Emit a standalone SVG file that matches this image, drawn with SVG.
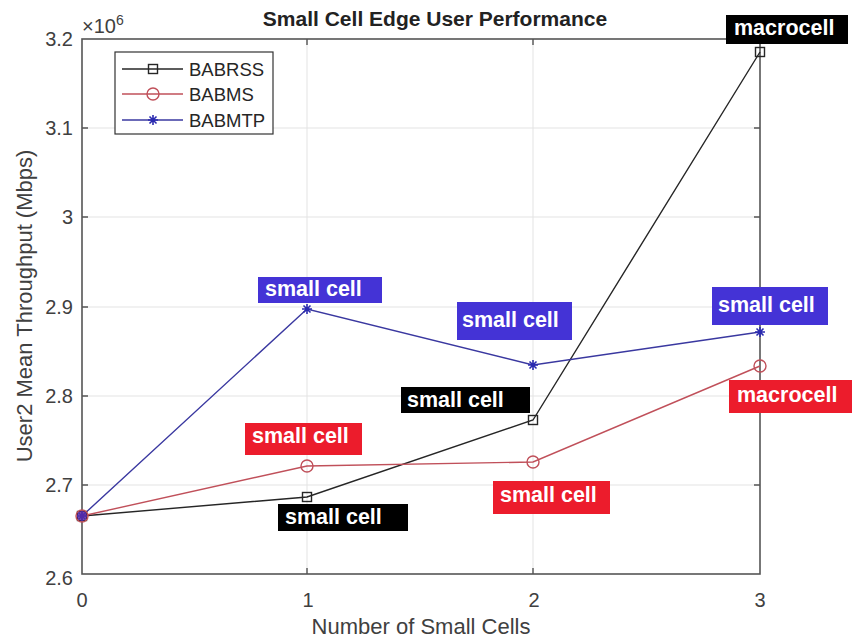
<svg xmlns="http://www.w3.org/2000/svg" width="853" height="640" viewBox="0 0 853 640">
<style>
text{font-family:"Liberation Sans",Arial,sans-serif}
.grid{stroke:#e3e3e3;stroke-width:1}
.tick{font-size:20px;fill:#404040}
.lbl{font-size:21.5px;font-weight:bold;fill:#fff}
.blk{fill:#000}.red{fill:#ec1c2c}.blu{fill:#4433d6}
.s1{fill:none;stroke:#262626;stroke-width:1.4}
.s2{fill:none;stroke:#c0505a;stroke-width:1.4}
.s3{fill:none;stroke:#3a38a0;stroke-width:1.4}
</style>
<defs>
<g id="sq"><rect x="-4.5" y="-4.5" width="9" height="9" fill="none" stroke="#262626" stroke-width="1.4"/></g>
<g id="ci"><circle r="6" fill="none" stroke="#c0505a" stroke-width="1.4"/></g>
<g id="st" stroke="#2a2ab0" stroke-width="1.6"><path d="M-5 0H5M0-5V5M-3.5-3.5L3.5 3.5M-3.5 3.5L3.5-3.5"/></g>
</defs>
<rect width="853" height="640" fill="#fff"/>
<g id="grid">
<path class="grid" d="M307 39V574M533 39V574M82 128H760M82 217H760M82 307H760M82 396H760M82 485H760"/>
</g>
<g id="axes">
<rect x="82" y="39" width="678" height="535" fill="none" stroke="#555" stroke-width="1.6"/>
<path d="M307 574v-6M533 574v-6M307 39v6M533 39v6M82 128h6M82 217h6M82 307h6M82 396h6M82 485h6M760 128h-6M760 217h-6M760 307h-6M760 396h-6M760 485h-6" stroke="#555" stroke-width="1.4"/>
<g class="tick" text-anchor="end">
<text x="73" y="46">3.2</text>
<text x="73" y="135">3.1</text>
<text x="73" y="224">3</text>
<text x="73" y="314">2.9</text>
<text x="73" y="403">2.8</text>
<text x="73" y="492">2.7</text>
<text x="73" y="585">2.6</text>
</g>
<g class="tick" text-anchor="middle">
<text x="82" y="607">0</text>
<text x="308" y="607">1</text>
<text x="534" y="607">2</text>
<text x="760" y="607">3</text>
</g>
<text x="82" y="33" class="tick" font-size="18">×10<tspan font-size="14" dy="-8">6</tspan></text>
<text x="421" y="634" text-anchor="middle" font-size="22" fill="#404040">Number of Small Cells</text>
<text transform="translate(32 306) rotate(-90)" text-anchor="middle" font-size="22" fill="#404040">User2 Mean Throughput (Mbps)</text>
<text x="435" y="26" text-anchor="middle" font-size="21" font-weight="bold" fill="#222">Small Cell Edge User Performance</text>
</g>
<g id="connectors">
<polyline class="s1" points="82,516 307,497 533,420 760,52"/>
<polyline class="s2" points="82,516 307,466 533,462 760,366"/>
<polyline class="s3" points="82,516 307,309 533,365 760,332"/>
</g>
<g id="markers">
<use href="#sq" x="82" y="516"/><use href="#sq" x="307" y="497"/><use href="#sq" x="533" y="420"/><use href="#sq" x="760" y="52"/>
<use href="#ci" x="82" y="516"/><use href="#ci" x="307" y="466"/><use href="#ci" x="533" y="462"/><use href="#ci" x="760" y="366"/>
<use href="#st" x="82" y="516"/><use href="#st" x="307" y="309"/><use href="#st" x="533" y="365"/><use href="#st" x="760" y="332"/>
<circle cx="82" cy="516" r="5" fill="#5a2aa8" opacity="0.8"/>
</g>
<g id="legend">
<rect x="115" y="52" width="158" height="82" fill="#fff" stroke="#333" stroke-width="1.2"/>
<path class="s1" d="M122 69H183"/><use href="#sq" x="153" y="69"/>
<path class="s2" d="M122 94H183"/><use href="#ci" x="153" y="94"/>
<path class="s3" d="M122 120H183"/><use href="#st" x="153" y="120"/>
<g font-size="18.5" fill="#262626">
<text x="189" y="76">BABRSS</text>
<text x="189" y="101">BABMS</text>
<text x="189" y="127">BABMTP</text>
</g>
</g>
<g id="label-macro-black"><rect class="blk" x="726" y="15" width="122" height="29"/><text class="lbl" x="734" y="35">macrocell</text></g>
<g id="label-blue-1"><rect class="blu" x="258" y="277" width="124" height="26"/><text class="lbl" x="265" y="296">small cell</text></g>
<g id="label-blue-2"><rect class="blu" x="457" y="302" width="115" height="38"/><text class="lbl" x="462" y="327">small cell</text></g>
<g id="label-blue-3"><rect class="blu" x="712" y="287" width="116" height="38"/><text class="lbl" x="718" y="312">small cell</text></g>
<g id="label-black-2"><rect class="blk" x="401" y="387" width="129" height="26"/><text class="lbl" x="407" y="407">small cell</text></g>
<g id="label-red-1"><rect class="red" x="245" y="423" width="117" height="32"/><text class="lbl" x="252" y="443">small cell</text></g>
<g id="label-black-1"><rect class="blk" x="278" y="504" width="130" height="27"/><text class="lbl" x="285" y="524">small cell</text></g>
<g id="label-red-2"><rect class="red" x="493" y="481" width="117" height="33"/><text class="lbl" x="500" y="502">small cell</text></g>
<g id="label-red-3"><rect class="red" x="729" y="380" width="123" height="33"/><text class="lbl" x="737" y="402">macrocell</text></g>
</svg>
